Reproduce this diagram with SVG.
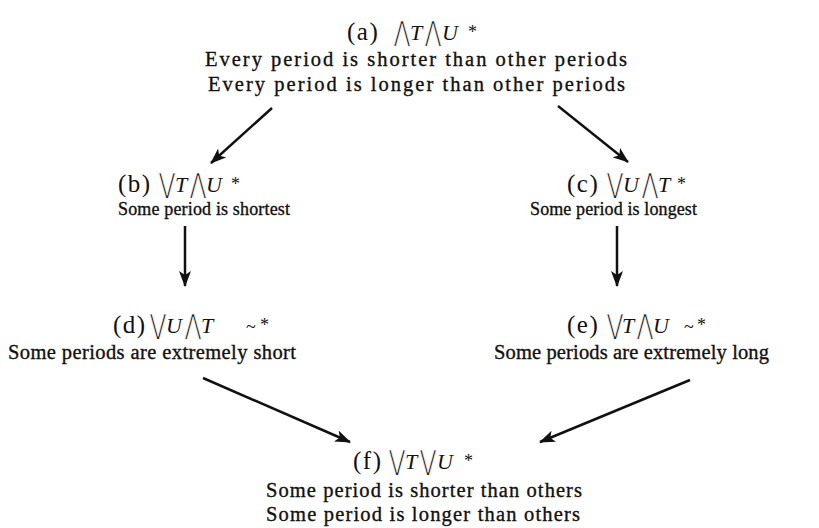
<svg xmlns="http://www.w3.org/2000/svg" width="819" height="528" viewBox="0 0 819 528">
<defs>
<marker id="ah" viewBox="0 0 16 12" refX="15" refY="6" markerWidth="16" markerHeight="12" markerUnits="userSpaceOnUse" orient="auto">
<path d="M0,0 L16,6 L0,12 L4,6 Z" fill="#111"/>
</marker>
</defs>
<style>
.t{font-family:"Liberation Serif",serif;font-size:20.5px;fill:#111;stroke:#111;stroke-width:0.35}
.t2{font-family:"Liberation Serif",serif;font-size:18px;fill:#111;stroke:#111;stroke-width:0.35}
.h{font-family:"Liberation Serif",serif;font-size:25px;fill:#111;letter-spacing:1.5px}
.w{font-family:"DejaVu Sans",sans-serif;font-size:28px;fill:#111;stroke:#fff;stroke-width:0.8}
.v{font-family:"Liberation Serif",serif;font-style:italic;font-size:22px;fill:#111}
.s{font-family:"Liberation Serif",serif;font-size:18px;fill:#111}
.e{stroke:#111;stroke-width:2.5;fill:none;marker-end:url(#ah)}
</style>
<rect width="819" height="528" fill="#fff"/>
<g id="connectors">
<line class="e" x1="272" y1="108" x2="211" y2="163"/>
<line class="e" x1="558" y1="106" x2="628" y2="162"/>
<line class="e" x1="185" y1="226" x2="185" y2="286"/>
<line class="e" x1="617" y1="226" x2="617" y2="286"/>
<line class="e" x1="203" y1="378" x2="350" y2="442"/>
<line class="e" x1="690" y1="380" x2="540" y2="442"/>
</g>
<g id="node-a">
<text class="h" x="347" y="40">(a)</text>
<text class="w" transform="translate(394,41) scale(0.7,1)">⋀</text>
<text class="v" x="410" y="40">T</text>
<text class="w" transform="translate(425,41) scale(0.7,1)">⋀</text>
<text class="v" x="442" y="40">U</text>
<text class="s" x="468" y="38">*</text>
<text class="t" x="205" y="66" textLength="422" lengthAdjust="spacing">Every period is shorter than other periods</text>
<text class="t" x="208" y="91" textLength="417" lengthAdjust="spacing">Every period is longer than other periods</text>
</g>
<g id="node-b">
<text class="h" x="118" y="192">(b)</text>
<text class="w" transform="translate(159,193) scale(0.7,1)">⋁</text>
<text class="v" x="175" y="192">T</text>
<text class="w" transform="translate(190,193) scale(0.7,1)">⋀</text>
<text class="v" x="206" y="192">U</text>
<text class="s" x="231" y="190">*</text>
<text class="t2" x="118" y="215" textLength="172" lengthAdjust="spacing">Some period is shortest</text>
</g>
<g id="node-c">
<text class="h" x="567" y="192">(c)</text>
<text class="w" transform="translate(607,193) scale(0.7,1)">⋁</text>
<text class="v" x="623" y="192">U</text>
<text class="w" transform="translate(642,193) scale(0.7,1)">⋀</text>
<text class="v" x="658" y="192">T</text>
<text class="s" x="677" y="190">*</text>
<text class="t2" x="530" y="215" textLength="167" lengthAdjust="spacing">Some period is longest</text>
</g>
<g id="node-d">
<text class="h" x="113" y="333">(d)</text>
<text class="w" transform="translate(150,334) scale(0.7,1)">⋁</text>
<text class="v" x="166" y="333">U</text>
<text class="w" transform="translate(185,334) scale(0.7,1)">⋀</text>
<text class="v" x="201" y="333">T</text>
<text class="s" x="246" y="333">~</text>
<text class="s" x="260" y="331">*</text>
<text class="t" x="8" y="359" textLength="288" lengthAdjust="spacing">Some periods are extremely short</text>
</g>
<g id="node-e">
<text class="h" x="567" y="333">(e)</text>
<text class="w" transform="translate(607,334) scale(0.7,1)">⋁</text>
<text class="v" x="622" y="333">T</text>
<text class="w" transform="translate(637,334) scale(0.7,1)">⋀</text>
<text class="v" x="653" y="333">U</text>
<text class="s" x="684" y="333">~</text>
<text class="s" x="697" y="331">*</text>
<text class="t" x="494" y="359" textLength="275" lengthAdjust="spacing">Some periods are extremely long</text>
</g>
<g id="node-f">
<text class="h" x="353" y="469">(f)</text>
<text class="w" transform="translate(389,470) scale(0.7,1)">⋁</text>
<text class="v" x="405" y="469">T</text>
<text class="w" transform="translate(420,470) scale(0.7,1)">⋁</text>
<text class="v" x="437" y="469">U</text>
<text class="s" x="464" y="467">*</text>
<text class="t" x="266" y="497" textLength="316" lengthAdjust="spacing">Some period is shorter than others</text>
<text class="t" x="266" y="521" textLength="314" lengthAdjust="spacing">Some period is longer than others</text>
</g>
</svg>
